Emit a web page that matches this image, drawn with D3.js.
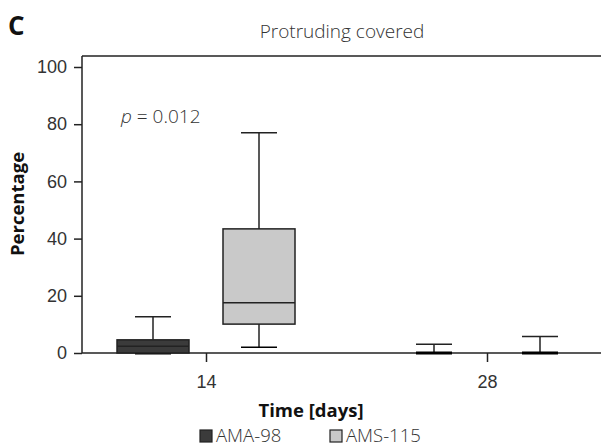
<!DOCTYPE html>
<html><head><meta charset="utf-8">
<script src="https://cdn.jsdelivr.net/npm/d3@7"></script>
<style>body{margin:0;background:#fff}svg{display:block;font-family:"Open Sans","Noto Sans",sans-serif}</style>
</head><body><svg id="c" width="601" height="446"></svg>
<script>
const days = [14, 28];
const groups = ["AMA-98", "AMS-115"];
const colors = ["#3b3b3b", "#c9c9c9"];
// [min, q1, median, q3, max]
const ama98 = [[0, 0, 2.4, 4.6, 12.7], [0, 0, 0, 0, 3.1]];
const ams115 = [[2.0, 10.1, 17.6, 43.4, 77.0], [0, 0, 0, 0, 5.8]];
const yTicks = [0, 20, 40, 60, 80, 100];
const series = [ama98, ams115];

const svg = d3.select("#c");
const L = 82, R = 601, T = 56, B = 353;
const y = d3.scaleLinear().domain([0, 100]).range([B, 67]);
const x = d3.scalePoint().domain(days).range([206, 487]);
const off = [-53, 53], boxW = 72, capW = 36;
const ink = "#222";

svg.append("line").attr("x1", L).attr("x2", R).attr("y1", T).attr("y2", T).attr("stroke", ink).attr("stroke-width", 1.5);

const yAxis = svg.append("g").attr("transform", `translate(${L},0)`)
  .call(d3.axisLeft(y).tickValues(yTicks).tickSize(8).tickPadding(7));
yAxis.select(".domain").attr("d", `M0,${T}V${B}`).attr("stroke", ink).attr("stroke-width", 1.5);
yAxis.selectAll("line").attr("stroke", ink).attr("stroke-width", 1.5);
yAxis.selectAll("text").attr("font-size", 18).attr("fill", "#333").attr("font-weight", 300);

const xAxis = svg.append("g").attr("transform", `translate(0,${B})`)
  .call(d3.axisBottom(x).tickSize(9).tickPadding(13));
xAxis.select(".domain").attr("d", `M${L},0H${R}`).attr("stroke", ink).attr("stroke-width", 1.5);
xAxis.selectAll("line").attr("stroke", ink).attr("stroke-width", 1.5);
xAxis.selectAll("text").attr("font-size", 18).attr("fill", "#333").attr("font-weight", 300);

series.forEach((s, gi) => {
  s.forEach((d, di) => {
    const cx = x(days[di]) + off[gi];
    const g = svg.append("g");
    const [mn, q1, md, q3, mx] = d;
    g.append("line").attr("x1", cx).attr("x2", cx).attr("y1", y(q3)).attr("y2", y(mx)).attr("stroke", ink).attr("stroke-width", 1.5);
    g.append("line").attr("x1", cx - capW/2).attr("x2", cx + capW/2).attr("y1", y(mx)).attr("y2", y(mx)).attr("stroke", ink).attr("stroke-width", 1.5);
    g.append("line").attr("x1", cx).attr("x2", cx).attr("y1", y(q1)).attr("y2", y(mn)).attr("stroke", ink).attr("stroke-width", 1.5);
    g.append("line").attr("x1", cx - capW/2).attr("x2", cx + capW/2).attr("y1", y(mn)).attr("y2", y(mn)).attr("stroke", "#000").attr("stroke-width", mn === 0 ? 3 : 1.5);
    if (q3 > q1) {
      g.append("rect").attr("x", cx - boxW/2).attr("width", boxW).attr("y", y(q3)).attr("height", y(q1) - y(q3))
        .attr("fill", colors[gi]).attr("stroke", ink).attr("stroke-width", 1.5);
      g.append("line").attr("x1", cx - boxW/2).attr("x2", cx + boxW/2).attr("y1", y(md)).attr("y2", y(md)).attr("stroke", ink).attr("stroke-width", 1.5);
    }
  });
});

svg.append("text").attr("x", 8).attr("y", 35).attr("font-size", 26).attr("font-weight", 700).attr("fill", "#111").text("C");
svg.append("text").attr("x", 342).attr("y", 38).attr("text-anchor", "middle").attr("font-size", 19).attr("fill", "#333").attr("font-weight", 300).text("Protruding covered");
const pt = svg.append("text").attr("x", 121).attr("y", 123).attr("font-size", 19).attr("fill", "#333").attr("font-weight", 300);
pt.append("tspan").attr("font-style", "italic").text("p");
pt.append("tspan").text(" = 0.012");
svg.append("text").attr("transform", "translate(24,204) rotate(-90)").attr("text-anchor", "middle").attr("font-size", 18.5).attr("font-weight", 700).attr("fill", "#111").text("Percentage");
svg.append("text").attr("x", 311).attr("y", 417).attr("text-anchor", "middle").attr("font-size", 18.5).attr("font-weight", 700).attr("fill", "#111").text("Time [days]");

const legX = [200, 330];
groups.forEach((gname, i) => {
  svg.append("rect").attr("x", legX[i]).attr("y", 430).attr("width", 12).attr("height", 12).attr("fill", colors[i]).attr("stroke", ink).attr("stroke-width", 1.2);
  svg.append("text").attr("x", legX[i] + 16).attr("y", 442).attr("font-size", 18.5).attr("fill", "#333").attr("font-weight", 300).text(gname);
});
</script></body></html>
